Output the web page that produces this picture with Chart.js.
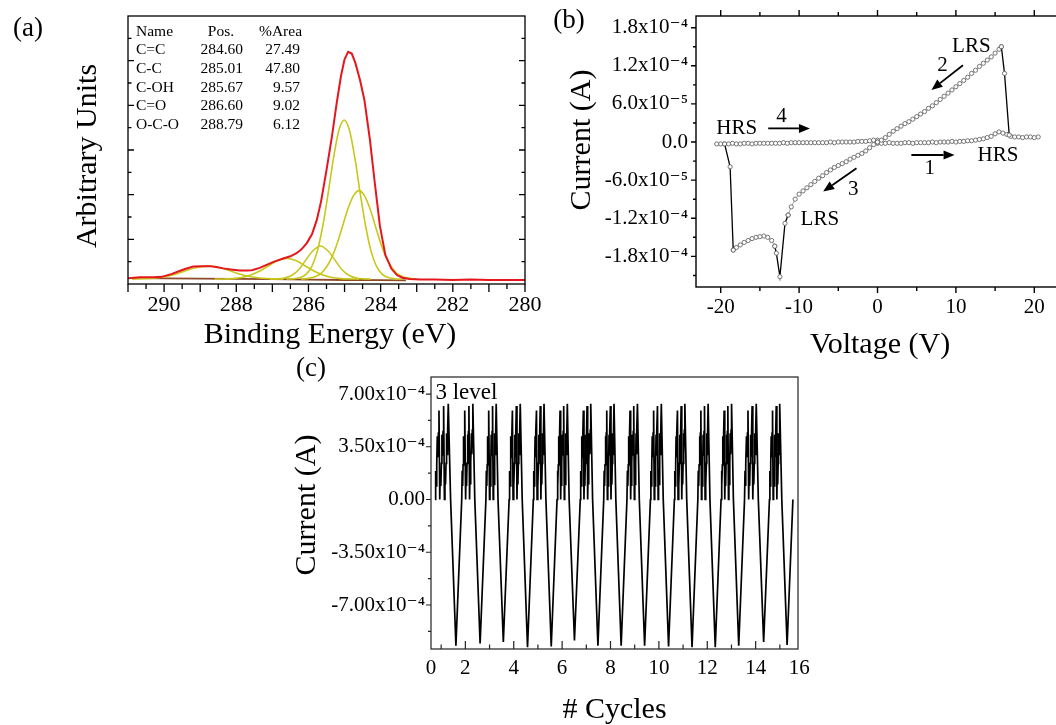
<!DOCTYPE html>
<html lang="en">
<head>
<meta charset="UTF-8">
<title>XPS C1s, I-V sweep and cycling</title>
<script src="https://cdn.jsdelivr.net/npm/chart.js@4.4.1/dist/chart.umd.min.js"></script>
<style>
  html, body { margin: 0; padding: 0; background: #fff; overflow: hidden; }
  body { width: 1056px; height: 725px; position: relative; }
  canvas { position: absolute; }
  #chartA { left: 0; top: 0; }
  #chartB { left: 540px; top: 0; }
  #chartC { left: 280px; top: 345px; }
</style>
</head>
<body>
<canvas id="chartA" width="550" height="360"></canvas>
<canvas id="chartB" width="540" height="360"></canvas>
<canvas id="chartC" width="560" height="380"></canvas>
<script>
// ---------- (a) XPS C1s ----------
const eRaw = [291.0, 290.67, 290.3, 290.07, 289.8, 289.61, 289.4, 289.19, 288.95, 288.73, 288.55, 288.36, 288.1, 287.9, 287.7, 287.57, 287.35, 287.16, 286.95, 286.7, 286.5, 286.33, 286.2, 286.05, 285.9, 285.77, 285.65, 285.5, 285.35, 285.22, 285.1, 285.0, 284.9, 284.8, 284.7, 284.57, 284.45, 284.3, 284.16, 284.02, 283.87, 283.7, 283.55, 283.4, 283.2, 282.9, 282.5, 282.0, 281.5, 281.0, 280.5, 280.0];
const iRaw = [0.13, 0.15, 0.15, 0.16, 0.22, 0.28, 0.34, 0.39, 0.40, 0.40, 0.38, 0.35, 0.32, 0.30, 0.30, 0.31, 0.36, 0.43, 0.50, 0.57, 0.62, 0.69, 0.77, 0.91, 1.12, 1.43, 1.85, 2.55, 3.30, 4.04, 4.65, 5.03, 5.20, 5.16, 4.95, 4.56, 4.12, 3.25, 2.25, 1.30, 0.65, 0.34, 0.20, 0.14, 0.11, 0.10, 0.10, 0.09, 0.10, 0.09, 0.09, 0.09];

const eCeqC = [283.0, 283.2, 283.4, 283.55, 283.7, 283.85, 284.0, 284.15, 284.3, 284.45, 284.6, 284.75, 284.9, 285.05, 285.2, 285.35, 285.5, 285.65, 285.8, 286.0, 286.2];
const iCeqC = [0.11, 0.126, 0.17, 0.24, 0.38, 0.60, 0.92, 1.31, 1.70, 1.98, 2.09, 1.98, 1.70, 1.31, 0.92, 0.60, 0.38, 0.24, 0.17, 0.126, 0.11];
const eCC = [283.41, 283.61, 283.81, 283.96, 284.11, 284.26, 284.41, 284.56, 284.71, 284.86, 285.01, 285.16, 285.31, 285.46, 285.61, 285.76, 285.91, 286.06, 286.21, 286.41, 286.61];
const iCC = [0.11, 0.118, 0.15, 0.22, 0.39, 0.72, 1.27, 2.00, 2.80, 3.43, 3.67, 3.43, 2.80, 2.00, 1.27, 0.72, 0.39, 0.22, 0.15, 0.118, 0.11];
const eCOH = [284.27, 284.47, 284.67, 284.87, 285.07, 285.27, 285.47, 285.67, 285.87, 286.07, 286.27, 286.47, 286.67, 286.87, 287.07];
const iCOH = [0.11, 0.115, 0.133, 0.19, 0.32, 0.54, 0.75, 0.85, 0.75, 0.54, 0.32, 0.19, 0.133, 0.115, 0.11];
const eCeqO = [284.6, 284.85, 285.1, 285.35, 285.6, 285.85, 286.1, 286.35, 286.6, 286.85, 287.1, 287.35, 287.6, 287.85, 288.1, 288.35, 288.6];
const iCeqO = [0.11, 0.113, 0.121, 0.145, 0.20, 0.29, 0.41, 0.525, 0.57, 0.525, 0.41, 0.29, 0.20, 0.145, 0.121, 0.113, 0.11];
const eOCO = [286.69, 286.99, 287.29, 287.59, 287.89, 288.19, 288.49, 288.79, 289.09, 289.39, 289.69, 289.99, 290.29, 290.59, 290.89];
const iOCO = [0.11, 0.116, 0.13, 0.163, 0.22, 0.30, 0.37, 0.40, 0.37, 0.30, 0.22, 0.163, 0.13, 0.116, 0.11];
const eBase = [283.3, 284.0, 285.0, 286.0, 287.0, 288.0, 289.0, 290.0, 290.9];
const iBase = [0.08, 0.085, 0.09, 0.10, 0.11, 0.115, 0.12, 0.125, 0.13];

const peakNames = ['C=C', 'C-C', 'C-OH', 'C=O', 'O-C-O'];
const peakPos = ['284.60', '285.01', '285.67', '286.60', '288.79'];
const peakArea = ['27.49', '47.80', '9.57', '9.02', '6.12'];
const aTickE = [280, 282, 284, 286, 288, 290];

// ---------- (b) I-V sweep, current in 1e-4 A ----------
const hrsPosV = [0, 0.5, 1, 1.5, 2, 2.5, 3, 3.5, 4, 4.5, 5, 5.5, 6, 6.5, 7, 7.5, 8, 8.5, 9, 9.5, 10, 10.5, 11, 11.5, 12, 12.5, 13, 13.5, 14, 14.5, 15, 15.5, 16, 16.5, 17, 17.5, 18, 18.5, 19, 19.5, 20, 20.5];
const hrsPosI = [-0.02, -0.02, -0.02, -0.01, -0.02, -0.02, -0.02, -0.01, -0.01, -0.02, -0.01, -0.01, -0.01, -0.01, 0.00, -0.01, 0.00, 0.00, 0.00, 0.01, 0.00, 0.01, 0.01, 0.02, 0.02, 0.03, 0.04, 0.05, 0.07, 0.09, 0.13, 0.16, 0.14, 0.12, 0.09, 0.08, 0.08, 0.07, 0.08, 0.08, 0.07, 0.08];
const setV = [16.8, 16.2, 15.8];
const setI = [0.11, 1.08, 1.50];
const lrsPosV = [15.8, 15.5, 15, 14.5, 14, 13.5, 13, 12.5, 12, 11.5, 11, 10.5, 10, 9.5, 9, 8.5, 8, 7.5, 7, 6.5, 6, 5.5, 5, 4.5, 4, 3.5, 3, 2.5, 2, 1.5, 1, 0.5, 0];
const lrsPosI = [1.50, 1.46, 1.40, 1.34, 1.29, 1.24, 1.19, 1.13, 1.08, 1.02, 0.97, 0.92, 0.87, 0.82, 0.77, 0.72, 0.67, 0.62, 0.57, 0.53, 0.48, 0.44, 0.40, 0.36, 0.32, 0.29, 0.25, 0.21, 0.17, 0.12, 0.07, 0.03, 0.00];
const lrsNegV = [0, -0.5, -1, -1.5, -2, -2.5, -3, -3.5, -4, -4.5, -5, -5.5, -6, -6.5, -7, -7.5, -8, -8.5, -9, -9.5, -10, -10.5, -11, -11.4];
const lrsNegI = [0.00, -0.04, -0.09, -0.14, -0.18, -0.21, -0.24, -0.27, -0.31, -0.34, -0.37, -0.40, -0.44, -0.48, -0.53, -0.57, -0.62, -0.67, -0.72, -0.77, -0.82, -0.90, -1.02, -1.15];
const spikeV = [-11.4, -11.8, -12.45, -12.9, -13.1];
const spikeI = [-1.15, -1.28, -2.12, -1.75, -1.64];
const lrsFlatV = [-13.1, -13.5, -14, -14.5, -15, -15.5, -16, -16.5, -17, -17.5, -18, -18.4];
const lrsFlatI = [-1.64, -1.55, -1.50, -1.48, -1.49, -1.50, -1.52, -1.55, -1.58, -1.62, -1.66, -1.70];
const resetV = [-18.4, -18.8, -19.5];
const resetI = [-1.70, -0.39, -0.03];
const hrsNegV = [-20.5, -20, -19.5, -19, -18.5, -18, -17.5, -17, -16.5, -16, -15.5, -15, -14.5, -14, -13.5, -13, -12.5, -12, -11.5, -11, -10.5, -10, -9.5, -9, -8.5, -8, -7.5, -7, -6.5, -6, -5.5, -5, -4.5, -4, -3.5, -3, -2.5, -2, -1.5, -1, -0.5, 0];
const hrsNegI = [-0.03, -0.03, -0.03, -0.03, -0.02, -0.03, -0.03, -0.02, -0.02, -0.03, -0.02, -0.02, -0.02, -0.02, -0.02, -0.02, -0.02, -0.01, -0.02, -0.01, -0.01, -0.01, -0.01, -0.01, -0.01, -0.01, -0.01, -0.01, -0.01, 0.00, -0.01, 0.00, 0.00, 0.00, 0.00, 0.00, 0.01, 0.01, 0.01, 0.02, 0.03, 0.03];
const bTickV = [-20, -10, 0, 10, 20];
const bTickI = [-1.8, -1.2, -0.6, 0, 0.6, 1.2, 1.8];
const bTickIText = ['-1.8x10⁻⁴', '-1.2x10⁻⁴', '-6.0x10⁻⁵', '0.0', '6.0x10⁻⁵', '1.2x10⁻⁴', '1.8x10⁻⁴'];

// ---------- (c) cycling, current in 1e-4 A ----------
const firstBurstStart = 0.75;
const valleyX = [1.61, 2.61, 3.57, 4.57, 5.55, 6.51, 7.48, 8.44, 9.41, 10.40, 11.37, 12.33, 13.30, 14.33, 15.30];
const valleyI = [-9.70, -9.55, -9.45, -9.80, -9.75, -9.35, -9.70, -9.70, -9.70, -9.75, -9.80, -9.80, -9.70, -9.45, -9.65];
const vDown = 0.22, vUp = 0.24;
// one write burst (three pulses), t = fraction of burst width
const burstT = [0, 0.035, 0.07, 0.105, 0.14, 0.175, 0.21, 0.25, 0.30, 0.335, 0.37, 0.405, 0.44, 0.475, 0.51, 0.55, 0.60, 0.635, 0.67, 0.705, 0.74, 0.775, 0.81, 0.85, 1.0];
const burstI = [0, 1.9, 0.9, 2.3, 4.2, 2.8, 4.4, 5.9, 0, 1.9, 0.9, 2.4, 4.3, 2.9, 4.5, 6.2, 0, 2.0, 1.0, 2.4, 4.4, 3.0, 4.6, 6.35, 0];
const cTickX = [0.58, 2, 4, 6, 8, 10, 12, 14, 15.8];
const cTickXText = ['0', '2', '4', '6', '8', '10', '12', '14', '16'];
const cTickI = [-7, -3.5, 0, 3.5, 7];
const cTickIText = ['-7.00x10⁻⁴', '-3.50x10⁻⁴', '0.00', '3.50x10⁻⁴', '7.00x10⁻⁴'];

const SERIF = "'Liberation Serif', 'DejaVu Serif', serif";
Chart.defaults.font.family = SERIF;
Chart.defaults.color = '#000';

function pts(xs, ys) { return xs.map((x, i) => ({ x: x, y: ys[i] })); }
function steps(a, b, d) {
  const out = [];
  for (let v = a; v <= b + 1e-9; v += d) out.push(+v.toFixed(4));
  return out;
}
function curve(xs, ys, color, width, smooth) {
  return {
    data: pts(xs, ys), showLine: true, borderColor: color, borderWidth: width,
    pointRadius: 0, tension: smooth ? 0.4 : 0,
    cubicInterpolationMode: smooth ? 'monotone' : 'default'
  };
}
function circles(xs, ys, lineColor, lineWidth) {
  return {
    data: pts(xs, ys), showLine: true, borderColor: lineColor, borderWidth: lineWidth,
    pointRadius: 2.1, pointBorderWidth: 0.9, pointBorderColor: '#666',
    pointBackgroundColor: '#fff'
  };
}

// frame, custom tick marks, texts and arrows (config kept outside chart options)
function framePlugin(o) {
  return {
    id: 'frame',
    afterDatasetsDraw(chart) {
      const ctx = chart.ctx, a = chart.chartArea;
      const sx = chart.scales.x, sy = chart.scales.y;
      ctx.save();
      ctx.strokeStyle = o.color || '#000';
      ctx.lineWidth = o.lineWidth || 1.2;
      ctx.strokeRect(a.left, a.top, a.right - a.left, a.bottom - a.top);
      (o.ticks || []).forEach(t => {
        const s = chart.scales[t.scale];
        ctx.beginPath();
        t.values.forEach(v => {
          const p = s.getPixelForValue(v);
          if (t.side === 'bottom') { ctx.moveTo(p, a.bottom); ctx.lineTo(p, a.bottom + t.len); }
          if (t.side === 'top') { ctx.moveTo(p, a.top); ctx.lineTo(p, a.top - t.len); }
          if (t.side === 'left') { ctx.moveTo(a.left, p); ctx.lineTo(a.left - t.len, p); }
          if (t.side === 'right') { ctx.moveTo(a.right, p); ctx.lineTo(a.right + t.len, p); }
        });
        ctx.stroke();
      });
      ctx.fillStyle = '#000';
      ctx.strokeStyle = '#000';
      (o.arrows || []).forEach(ar => {
        const x1 = sx.getPixelForValue(ar.from[0]), y1 = sy.getPixelForValue(ar.from[1]);
        const x2 = sx.getPixelForValue(ar.to[0]), y2 = sy.getPixelForValue(ar.to[1]);
        const ang = Math.atan2(y2 - y1, x2 - x1), c = Math.cos(ang), s = Math.sin(ang);
        const hl = 11, hw = 4.5;
        ctx.lineWidth = 1.8;
        ctx.beginPath(); ctx.moveTo(x1, y1); ctx.lineTo(x2 - hl * c, y2 - hl * s); ctx.stroke();
        ctx.beginPath();
        ctx.moveTo(x2, y2);
        ctx.lineTo(x2 - hl * c + hw * s, y2 - hl * s - hw * c);
        ctx.lineTo(x2 - hl * c - hw * s, y2 - hl * s + hw * c);
        ctx.closePath(); ctx.fill();
      });
      (o.texts || []).forEach(t => {
        let x = t.px, y = t.py;
        if (t.at) { x = sx.getPixelForValue(t.at[0]); y = sy.getPixelForValue(t.at[1]); }
        ctx.font = t.size + 'px ' + SERIF;
        ctx.textAlign = t.align || 'center';
        ctx.textBaseline = 'middle';
        ctx.save();
        ctx.translate(x, y);
        if (t.rotate) ctx.rotate(-Math.PI / 2);
        ctx.fillText(t.text, 0, 0);
        ctx.restore();
      });
      ctx.restore();
    }
  };
}

function xScale(min, max, height, tickVals, tickText, size, pad, reverse) {
  return {
    type: 'linear', min: min, max: max, reverse: !!reverse,
    grid: { display: false, drawTicks: false }, border: { display: false },
    ticks: {
      font: { size: size }, padding: pad, autoSkip: false, maxRotation: 0,
      callback: v => tickText ? tickText[tickVals.indexOf(v)] : String(v)
    },
    afterBuildTicks: s => { s.ticks = tickVals.map(v => ({ value: v })); },
    afterFit: s => { s.height = height; s.paddingLeft = 0; s.paddingRight = 0; }
  };
}
function yScale(min, max, width, tickVals, tickText, size, pad) {
  return {
    type: 'linear', min: min, max: max,
    grid: { display: false, drawTicks: false }, border: { display: false },
    ticks: {
      display: !!tickText, font: { size: size }, padding: pad, autoSkip: false,
      callback: v => tickText ? tickText[tickVals.indexOf(v)] : ''
    },
    afterBuildTicks: s => { s.ticks = tickVals.map(v => ({ value: v })); },
    afterFit: s => { s.width = width; s.paddingTop = 0; s.paddingBottom = 0; }
  };
}
function baseOptions(padding, scales) {
  return {
    responsive: false, animation: false, devicePixelRatio: 1, events: [],
    layout: { padding: padding },
    plugins: { legend: { display: false }, tooltip: { enabled: false } },
    scales: scales
  };
}

// ---- chart (a)
const tableTexts = [
  { text: 'Name', px: 136, py: 31.7, size: 15.5, align: 'left' },
  { text: 'Pos.', px: 221, py: 31.7, size: 15.5 },
  { text: '%Area', px: 280.5, py: 31.7, size: 15.5 }
];
peakNames.forEach((n, i) => {
  const y = 50.3 + i * 18.6;
  tableTexts.push({ text: n, px: 136, py: y, size: 15.5, align: 'left' });
  tableTexts.push({ text: peakPos[i], px: 221.7, py: y, size: 15.5 });
  tableTexts.push({ text: peakArea[i], px: 300, py: y, size: 15.5, align: 'right' });
});

const yellow = '#c8c71c';
new Chart(document.getElementById('chartA'), {
  type: 'scatter',
  data: {
    datasets: [
      curve(eRaw, iRaw, '#e5161d', 2, false),
      curve(eCC, iCC, yellow, 1.6, true),
      curve(eCeqC, iCeqC, yellow, 1.6, true),
      curve(eCOH, iCOH, yellow, 1.6, true),
      curve(eCeqO, iCeqO, yellow, 1.6, true),
      curve(eOCO, iOCO, yellow, 1.6, true),
      curve(eBase, iBase, '#8c4a28', 1.8, false)
    ]
  },
  options: baseOptions({ left: 0, top: 16, right: 25, bottom: 0 }, {
    x: xScale(280, 291, 76, aTickE, null, 22, 8, true),
    y: yScale(0, 6, 128, [0, 6], null, 22, 0)
  }),
  plugins: [framePlugin({
    lineWidth: 1.3,
    ticks: [
      { scale: 'x', side: 'bottom', values: steps(280, 291, 1), len: 8 },
      { scale: 'x', side: 'bottom', values: steps(280.5, 290.5, 1), len: 5 },
      { scale: 'y', side: 'left', values: steps(1, 5, 1), len: -6 },
      { scale: 'y', side: 'left', values: steps(0.5, 5.5, 1), len: -3.5 },
      { scale: 'y', side: 'right', values: steps(1, 5, 1), len: -6 },
      { scale: 'y', side: 'right', values: steps(0.5, 5.5, 1), len: -3.5 }
    ],
    texts: [
      { text: '(a)', px: 28, py: 29, size: 27 },
      { text: 'Arbitrary Units', px: 88, py: 156, size: 30, rotate: true },
      { text: 'Binding Energy (eV)', px: 330, py: 335, size: 30 }
    ].concat(tableTexts)
  })]
});

// ---- chart (b)
new Chart(document.getElementById('chartB'), {
  type: 'scatter',
  data: {
    datasets: [
      circles(setV, setI, '#000', 1.3),
      circles(resetV, resetI, '#000', 1.3),
      circles(spikeV, spikeI, '#000', 1.3),
      circles(lrsPosV, lrsPosI, '#8a8a8a', 0.8),
      circles(lrsNegV, lrsNegI, '#8a8a8a', 0.8),
      circles(lrsFlatV, lrsFlatI, '#8a8a8a', 0.8),
      circles(hrsPosV, hrsPosI, '#8a8a8a', 0.8),
      circles(hrsNegV, hrsNegI, '#8a8a8a', 0.8)
    ]
  },
  options: baseOptions({ left: 0, top: 16, right: 21, bottom: 0 }, {
    x: xScale(-23.15, 23.15, 73, bTickV, null, 21, 8, false),
    y: yScale(-2.282, 1.984, 156, bTickI, bTickIText, 21, 8)
  }),
  plugins: [framePlugin({
    lineWidth: 1.4,
    ticks: [
      { scale: 'x', side: 'bottom', values: steps(-20, 20, 10), len: 6 },
      { scale: 'x', side: 'bottom', values: steps(-15, 15, 10), len: 4 },
      { scale: 'x', side: 'top', values: steps(-20, 20, 10), len: 6 },
      { scale: 'x', side: 'top', values: steps(-15, 15, 10), len: 4 },
      { scale: 'y', side: 'left', values: bTickI, len: 5 },
      { scale: 'y', side: 'left', values: steps(-2.1, 1.5, 0.6), len: 3 }
    ],
    arrows: [
      { from: [10.9, 1.21], to: [6.88, 0.82] },
      { from: [-13.94, 0.215], to: [-8.62, 0.215] },
      { from: [4.32, -0.204], to: [9.83, -0.204] },
      { from: [-2.68, -0.413], to: [-6.93, -0.78] }
    ],
    texts: [
      { text: '(b)', px: 29, py: 21, size: 27 },
      { text: 'Current (A)', px: 41.7, py: 140, size: 30, rotate: true },
      { text: 'Voltage (V)', px: 340, py: 345, size: 30 },
      { text: 'LRS', at: [11.97, 1.51], size: 21 },
      { text: '2', at: [8.3, 1.21], size: 21 },
      { text: 'HRS', at: [-17.96, 0.215], size: 21 },
      { text: '4', at: [-12.23, 0.40], size: 21 },
      { text: 'HRS', at: [15.36, -0.204], size: 21 },
      { text: '1', at: [6.66, -0.413], size: 21 },
      { text: '3', at: [-3.1, -0.754], size: 21 },
      { text: 'LRS', at: [-7.35, -1.225], size: 21 }
    ]
  })]
});

// ---- chart (c)
const cyclePts = [];
let burstStart = firstBurstStart;
valleyX.forEach((xv, k) => {
  const burstEnd = xv - vDown;
  burstT.forEach((t, j) => cyclePts.push({ x: burstStart + t * (burstEnd - burstStart), y: burstI[j] }));
  cyclePts.push({ x: xv, y: valleyI[k] });
  burstStart = xv + vUp;
});
cyclePts.push({ x: burstStart, y: 0 });

new Chart(document.getElementById('chartC'), {
  type: 'scatter',
  data: {
    datasets: [{
      data: cyclePts, showLine: true, borderColor: '#000', borderWidth: 1.7,
      pointRadius: 0, tension: 0
    }]
  },
  options: baseOptions({ left: 0, top: 32, right: 42, bottom: 0 }, {
    x: xScale(0.58, 15.75, 76, cTickX, cTickXText, 21, 6.4, false),
    y: yScale(-9.92, 8.13, 151, cTickI, cTickIText, 21, 6)
  }),
  plugins: [framePlugin({
    lineWidth: 1.2, color: '#222',
    ticks: [
      { scale: 'y', side: 'left', values: cTickI, len: 5 },
      { scale: 'y', side: 'left', values: [-8.75, -5.25, -1.75, 1.75, 5.25], len: 3 },
      { scale: 'x', side: 'bottom', values: steps(2, 14, 2), len: -8 },
      { scale: 'x', side: 'bottom', values: steps(1, 15, 2), len: -4.5 }
    ],
    texts: [
      { text: '(c)', px: 31, py: 24, size: 27 },
      { text: 'Current (A)', px: 27, py: 160, size: 30, rotate: true },
      { text: '# Cycles', px: 334.5, py: 365, size: 30 },
      { text: '3 level', px: 155.4, py: 48, size: 23, align: 'left' }
    ]
  })]
});
</script>
</body>
</html>
